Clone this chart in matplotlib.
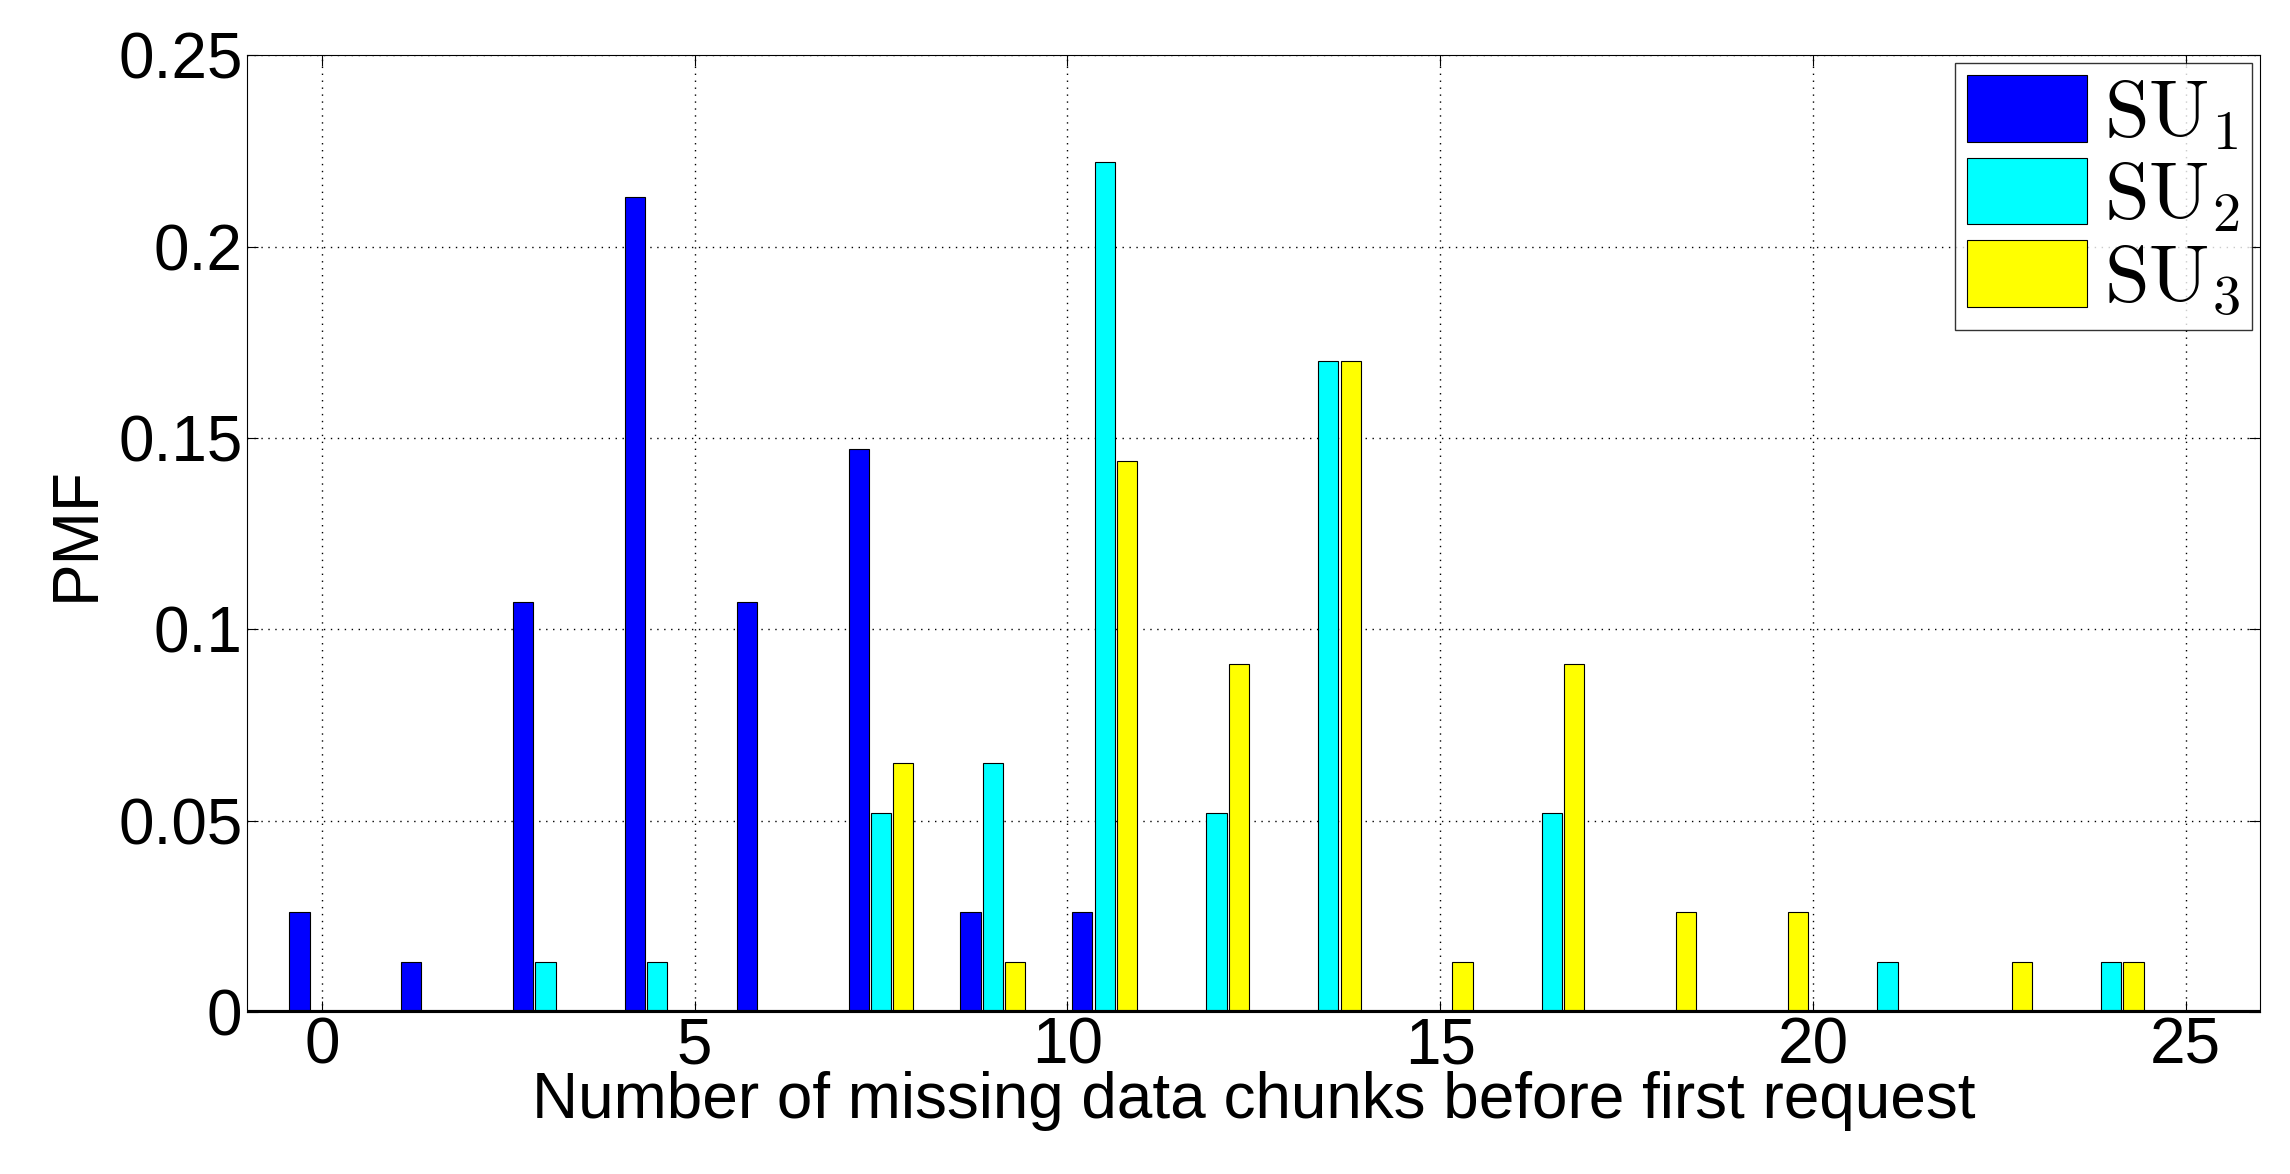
import matplotlib
matplotlib.use("Agg")
import matplotlib.pyplot as plt
import numpy as np

centers = [0,1.5,3,4.5,6,7.5,9,10.5,12,13.5,15,16.5,18,19.5,21,22.5,24]
su1 = [0.026,0.013,0.107,0.213,0.107,0.147,0.026,0.026,0,0,0,0,0,0,0,0,0]
su2 = [0,0,0.013,0.013,0,0.052,0.065,0.222,0.052,0.170,0,0.052,0,0,0.013,0,0.013]
su3 = [0,0,0,0,0,0.065,0.013,0.144,0.091,0.170,0.013,0.091,0.026,0.026,0,0.013,0.013]
labels = [r'$\mathrm{SU}_1$', r'$\mathrm{SU}_2$', r'$\mathrm{SU}_3$']
colors = ['#0000ff', '#00ffff', '#ffff00']

plt.rcParams['mathtext.fontset'] = 'cm'
plt.rcParams['font.family'] = ['Liberation Sans', 'DejaVu Sans']
fig = plt.figure(figsize=(22.9, 11.74), dpi=100)
ax = fig.add_axes([0.108, 0.138, 0.879, 0.815])
x = np.array(centers)
w = 0.27
for i, (vals, lab, c) in enumerate(zip([su1, su2, su3], labels, colors)):
    ax.bar(x + (i-1)*0.3, vals, width=w, color=c, edgecolor='black', linewidth=0.8, label=lab, zorder=3)
ax.axhline(0, color='black', linewidth=3, zorder=4)
ax.set_xlim(-1, 26)
ax.set_ylim(0, 0.25)
ax.set_xticks([0,5,10,15,20,25])
ax.set_yticks([0,0.05,0.1,0.15,0.2,0.25])
ax.set_yticklabels(['0','0.05','0.1','0.15','0.2','0.25'])
ax.grid(True, linestyle=(0, (1, 4)), color='black', linewidth=1)
ax.tick_params(labelsize=46, direction='in', length=8, top=True, right=True)
ax.set_xlabel('Number of missing data chunks before first request', fontsize=46, labelpad=-4)
ax.set_ylabel('PMF', fontsize=46, labelpad=8)
leg = ax.legend(loc='upper right', fontsize=58, fancybox=False, edgecolor='black',
                handlelength=1.5, handleheight=0.9, handletextpad=0.2, borderpad=0.15,
                labelspacing=0.05, borderaxespad=0.1)
leg.get_frame().set_linewidth(1)
fig.savefig('out.png', dpi=100)
